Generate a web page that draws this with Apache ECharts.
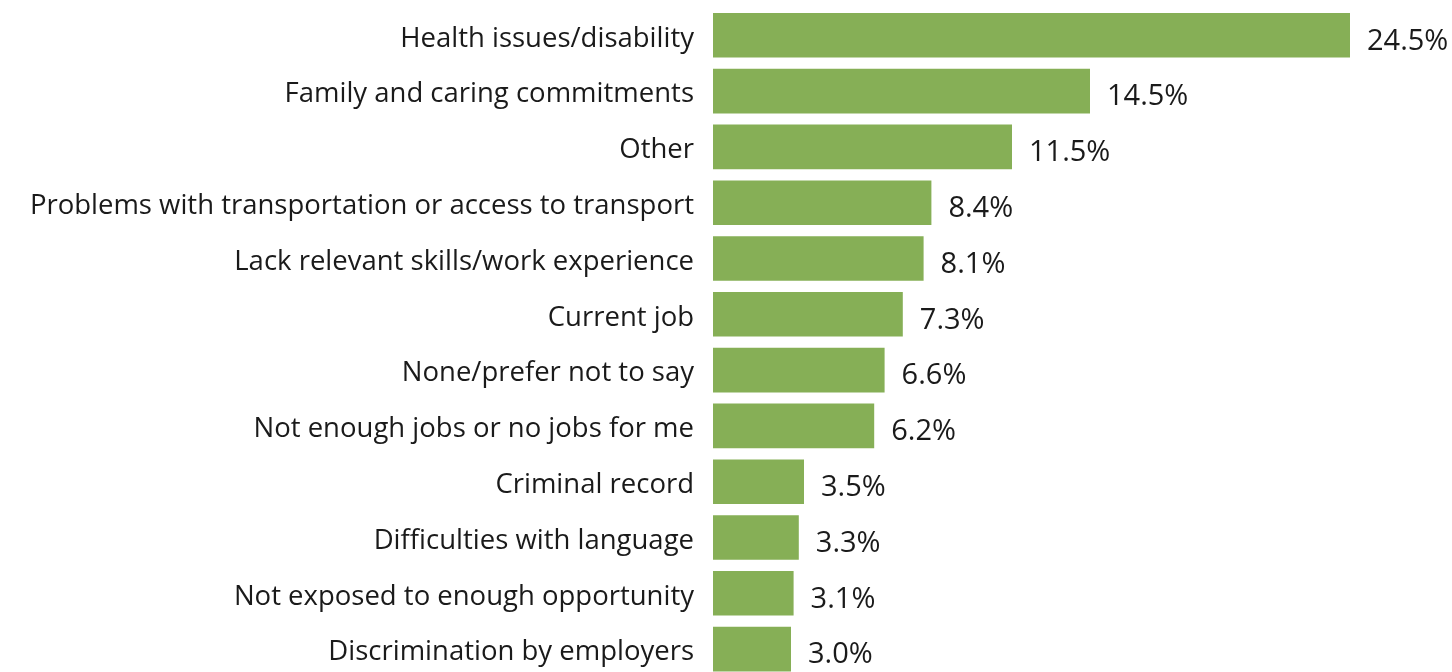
<!DOCTYPE html>
<html>
<head>
<meta charset="utf-8">
<script src="https://cdn.jsdelivr.net/npm/echarts@6/dist/echarts.min.js"></script>
<style>
html,body{margin:0;padding:0;background:#fff;overflow:hidden;width:1452px;height:672px;}
#chart{width:1452px;height:677px;}
</style>
</head>
<body>
<div id="chart"></div>
<script>
const categories = [
  "Health issues/disability",
  "Family and caring commitments",
  "Other",
  "Problems with transportation or access to transport",
  "Lack relevant skills/work experience",
  "Current job",
  "None/prefer not to say",
  "Not enough jobs or no jobs for me",
  "Criminal record",
  "Difficulties with language",
  "Not exposed to enough opportunity",
  "Discrimination by employers"
];
const values = [24.5, 14.5, 11.5, 8.4, 8.1, 7.3, 6.6, 6.2, 3.5, 3.3, 3.1, 3.0];

const chart = echarts.init(document.getElementById('chart'), null, {renderer: 'canvas'});
chart.setOption({
  animation: false,
  backgroundColor: '#ffffff',
  grid: {left: 713, width: 728, top: 7.4, bottom: 0, containLabel: false},
  xAxis: {
    type: 'value', min: 0, max: 28,
    show: false
  },
  yAxis: {
    type: 'category',
    inverse: true,
    data: categories,
    axisLine: {show: false},
    axisTick: {show: false},
    axisLabel: {
      margin: 19,
      formatter: v => '{t|' + v + '}',
      rich: {
        t: {
          fontFamily: 'Open Sans',
          fontSize: 27.5,
          color: '#1a1a1a',
          padding: [7, 0, 0, 0]
        }
      }
    }
  },
  series: [{
    type: 'bar',
    data: values,
    barCategoryGap: '20%',
    itemStyle: {color: '#86AF56'},
    label: {
      show: true,
      position: 'right',
      distance: 17,
      offset: [0, 6],
      fontFamily: 'Open Sans',
      fontSize: 29,
      color: '#1a1a1a',
      formatter: p => p.value.toFixed(1) + '%'
    }
  }]
});
</script>
</body>
</html>
